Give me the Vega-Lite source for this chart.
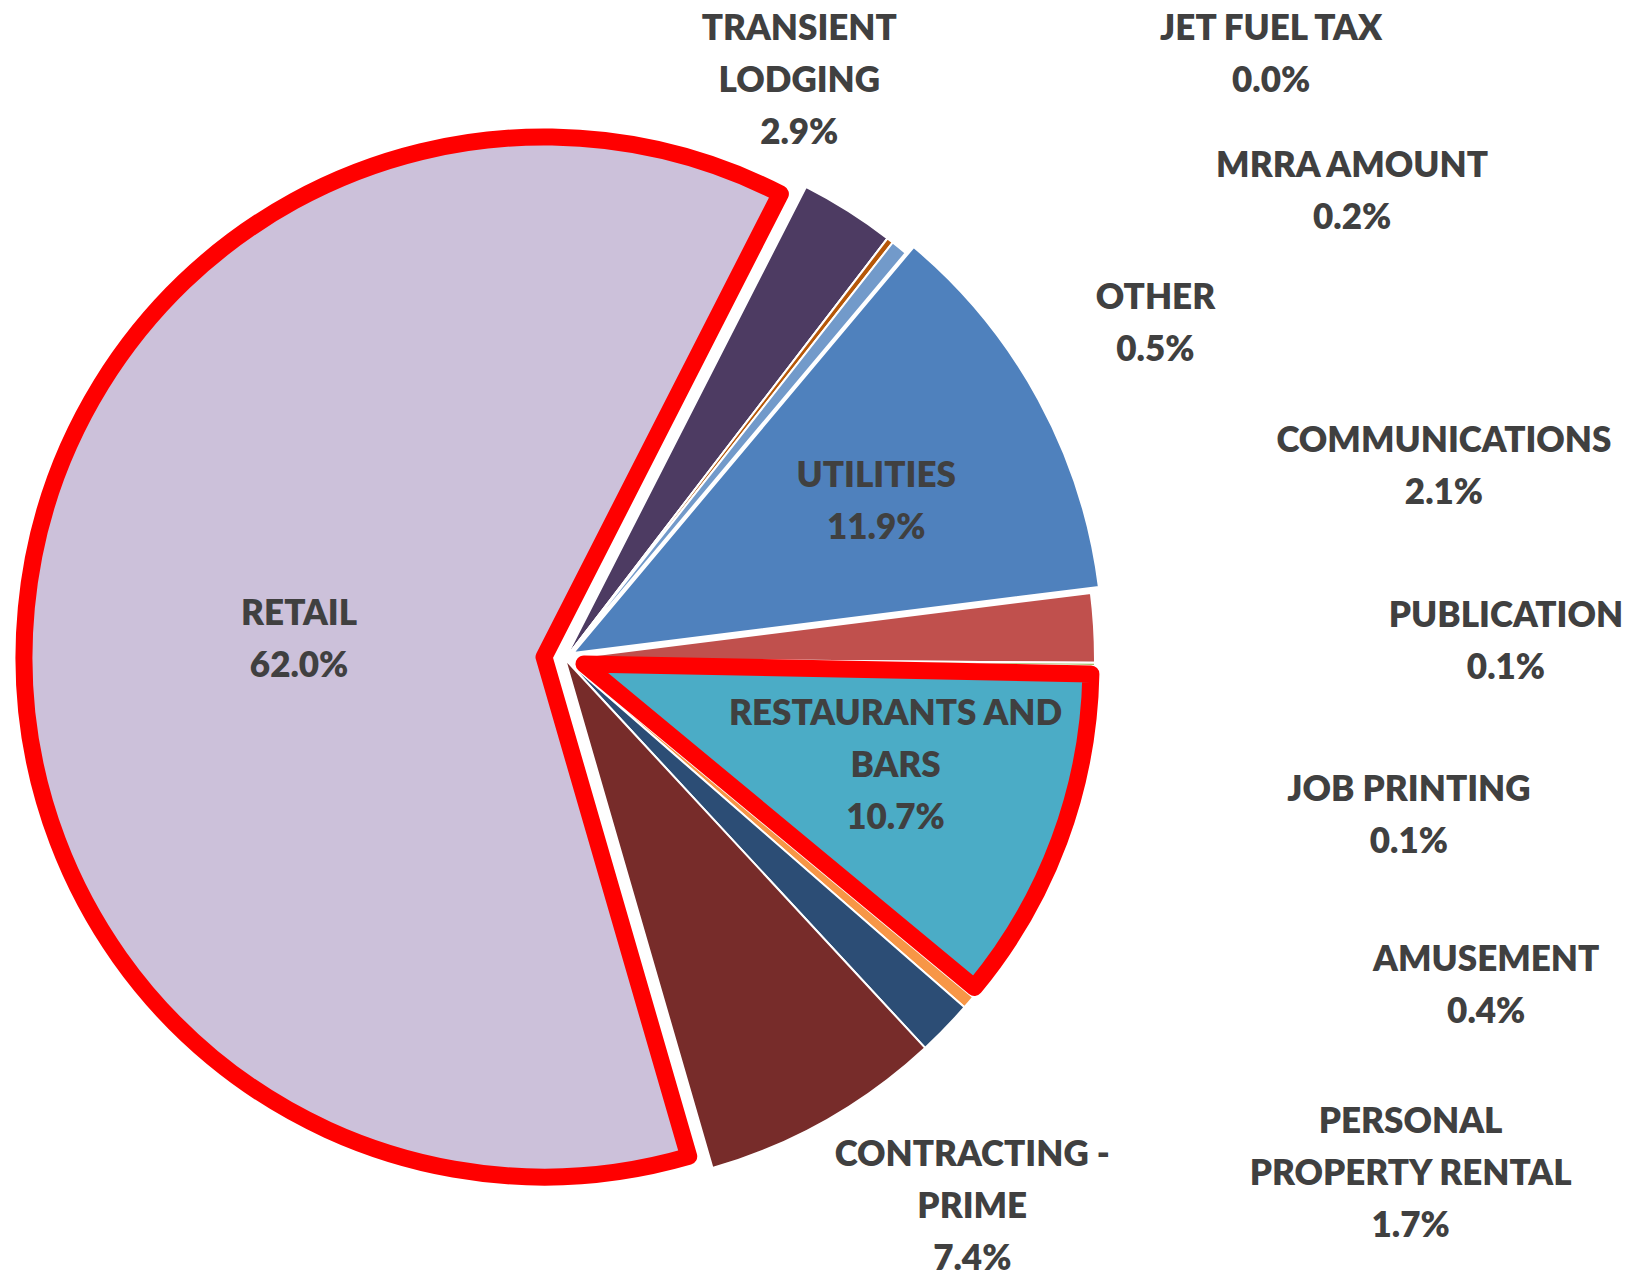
{
  "$schema": "https://vega.github.io/schema/vega-lite/v6.json",
  "width": 1130,
  "height": 1230,
  "autosize": {"type": "none"},
  "padding": {"left": 0, "top": 44, "right": 513, "bottom": 1},
  "background": "white",
  "config": {
    "view": {"stroke": null},
    "text": {"font": "Lato", "fontWeight": 800, "fontSize": 35, "color": "#404040", "lineHeight": 52, "align": "center", "baseline": "middle"}
  },
  "data": {
    "values": [
      {"category": "UTILITIES", "value": 11.9},
      {"category": "COMMUNICATIONS", "value": 2.1},
      {"category": "PUBLICATION", "value": 0.1},
      {"category": "JOB PRINTING", "value": 0.1},
      {"category": "RESTAURANTS AND BARS", "value": 10.7},
      {"category": "AMUSEMENT", "value": 0.4},
      {"category": "PERSONAL PROPERTY RENTAL", "value": 1.7},
      {"category": "CONTRACTING - PRIME", "value": 7.4},
      {"category": "RETAIL", "value": 62.0},
      {"category": "TRANSIENT LODGING", "value": 2.9},
      {"category": "JET FUEL TAX", "value": 0.0},
      {"category": "MRRA AMOUNT", "value": 0.2},
      {"category": "OTHER", "value": 0.5}
    ]
  },
  "transform": [
    {"stack": "value", "groupby": [], "as": ["v0", "v1"]},
    {"calculate": "(datum.v0 + datum.v1) / 2", "as": "mid"},
    {"calculate": "format(datum.value / 100, '.1%')", "as": "pct"}
  ],
  "layer": [
    {
      "transform": [{"filter": "datum.category !== 'RETAIL' && datum.category !== 'RESTAURANTS AND BARS' && datum.category !== 'UTILITIES'"}],
      "mark": {"type": "arc", "outerRadius": 530, "stroke": "white", "strokeWidth": 2},
      "encoding": {
        "theta": {"field": "v0", "type": "quantitative", "scale": {"domain": [0, 100], "range": [0.6981317, 6.9813170]}},
        "theta2": {"field": "v1"},
        "color": {"field": "category", "type": "nominal", "legend": null,
          "scale": {
            "domain": ["UTILITIES", "COMMUNICATIONS", "PUBLICATION", "JOB PRINTING", "RESTAURANTS AND BARS", "AMUSEMENT", "PERSONAL PROPERTY RENTAL", "CONTRACTING - PRIME", "RETAIL", "TRANSIENT LODGING", "JET FUEL TAX", "MRRA AMOUNT", "OTHER"],
            "range": ["#4F81BD", "#C0504D", "#9BBB59", "#8064A2", "#4BACC6", "#F79646", "#2C4D75", "#772C2A", "#CCC1DA", "#4D3B62", "#276A7C", "#B65708", "#729ACA"]
          }}
      }
    },
    {
      "transform": [{"filter": "datum.category === 'UTILITIES'"}],
      "mark": {"type": "arc", "outerRadius": 530, "stroke": "white", "strokeWidth": 2, "xOffset": 8, "yOffset": -6},
      "encoding": {
        "theta": {"field": "v0", "type": "quantitative", "scale": {"domain": [0, 100], "range": [0.6981317, 6.9813170]}},
        "theta2": {"field": "v1"},
        "color": {"field": "category", "type": "nominal", "legend": null}
      }
    },
    {
      "transform": [{"filter": "datum.category === 'RESTAURANTS AND BARS'"}],
      "mark": {"type": "arc", "outerRadius": 507, "stroke": "#FF0000", "strokeWidth": 17, "strokeJoin": "round", "xOffset": 19, "yOffset": 5},
      "encoding": {
        "theta": {"field": "v0", "type": "quantitative", "scale": {"domain": [0, 100], "range": [0.6981317, 6.9813170]}},
        "theta2": {"field": "v1"},
        "color": {"field": "category", "type": "nominal", "legend": null}
      }
    },
    {
      "transform": [{"filter": "datum.category === 'RETAIL'"}],
      "mark": {"type": "arc", "outerRadius": 520, "stroke": "#FF0000", "strokeWidth": 17, "strokeJoin": "round", "xOffset": -21, "yOffset": -2},
      "encoding": {
        "theta": {"field": "v0", "type": "quantitative", "scale": {"domain": [0, 100], "range": [0.6981317, 6.9813170]}},
        "theta2": {"field": "v1"},
        "color": {"field": "category", "type": "nominal", "legend": null}
      }
    },
    {
      "transform": [{"filter": "datum.category === 'RETAIL'"}, {"calculate": "[datum.category, datum.pct]", "as": "lines"}],
      "mark": {"type": "text", "radius": 246, "xOffset": -21, "yOffset": -2, "dy": -20},
      "encoding": {
        "theta": {"field": "mid", "type": "quantitative", "scale": {"domain": [0, 100], "range": [0.6981317, 6.9813170]}},
        "text": {"field": "lines", "type": "nominal"}
      }
    },
    {
      "transform": [{"filter": "datum.category === 'UTILITIES'"}, {"calculate": "[datum.category, datum.pct]", "as": "lines"}],
      "mark": {"type": "text", "radius": 343, "xOffset": 8, "yOffset": -6, "dx": 2, "dy": -13},
      "encoding": {
        "theta": {"field": "mid", "type": "quantitative", "scale": {"domain": [0, 100], "range": [0.6981317, 6.9813170]}},
        "text": {"field": "lines", "type": "nominal"}
      }
    },
    {
      "transform": [{"filter": "datum.category === 'RESTAURANTS AND BARS'"}, {"calculate": "[substring(datum.category, 0, lastindexof(datum.category, ' ')), substring(datum.category, lastindexof(datum.category, ' ') + 1), datum.pct]", "as": "lines"}],
      "mark": {"type": "text", "radius": 343, "dx": 9, "dy": -64},
      "encoding": {
        "theta": {"field": "mid", "type": "quantitative", "scale": {"domain": [0, 100], "range": [0.6981317, 6.9813170]}},
        "text": {"field": "lines", "type": "nominal"}
      }
    },
    {
      "transform": [{"filter": "datum.category === 'TRANSIENT LODGING'"}, {"calculate": "[substring(datum.category, 0, indexof(datum.category, ' ')), substring(datum.category, indexof(datum.category, ' ') + 1), datum.pct]", "as": "lines"}],
      "mark": {"type": "text", "radius": 600, "dx": -86, "dy": -123},
      "encoding": {
        "theta": {"field": "mid", "type": "quantitative", "scale": {"domain": [0, 100], "range": [0.6981317, 6.9813170]}},
        "text": {"field": "lines", "type": "nominal"}
      }
    },
    {
      "transform": [{"filter": "datum.category === 'JET FUEL TAX'"}, {"calculate": "[datum.category, datum.pct]", "as": "lines"}],
      "mark": {"type": "text", "radius": 600, "dx": 341, "dy": -154},
      "encoding": {
        "theta": {"field": "mid", "type": "quantitative", "scale": {"domain": [0, 100], "range": [0.6981317, 6.9813170]}},
        "text": {"field": "lines", "type": "nominal"}
      }
    },
    {
      "transform": [{"filter": "datum.category === 'MRRA AMOUNT'"}, {"calculate": "[datum.category, datum.pct]", "as": "lines"}],
      "mark": {"type": "text", "radius": 600, "dx": 419, "dy": -19},
      "encoding": {
        "theta": {"field": "mid", "type": "quantitative", "scale": {"domain": [0, 100], "range": [0.6981317, 6.9813170]}},
        "text": {"field": "lines", "type": "nominal"}
      }
    },
    {
      "transform": [{"filter": "datum.category === 'OTHER'"}, {"calculate": "[datum.category, datum.pct]", "as": "lines"}],
      "mark": {"type": "text", "radius": 600, "dx": 212, "dy": 105},
      "encoding": {
        "theta": {"field": "mid", "type": "quantitative", "scale": {"domain": [0, 100], "range": [0.6981317, 6.9813170]}},
        "text": {"field": "lines", "type": "nominal"}
      }
    },
    {
      "transform": [{"filter": "datum.category === 'COMMUNICATIONS'"}, {"calculate": "[datum.category, datum.pct]", "as": "lines"}],
      "mark": {"type": "text", "radius": 600, "dx": 280, "dy": -183},
      "encoding": {
        "theta": {"field": "mid", "type": "quantitative", "scale": {"domain": [0, 100], "range": [0.6981317, 6.9813170]}},
        "text": {"field": "lines", "type": "nominal"}
      }
    },
    {
      "transform": [{"filter": "datum.category === 'PUBLICATION'"}, {"calculate": "[datum.category, datum.pct]", "as": "lines"}],
      "mark": {"type": "text", "radius": 600, "dx": 341, "dy": -49},
      "encoding": {
        "theta": {"field": "mid", "type": "quantitative", "scale": {"domain": [0, 100], "range": [0.6981317, 6.9813170]}},
        "text": {"field": "lines", "type": "nominal"}
      }
    },
    {
      "transform": [{"filter": "datum.category === 'JOB PRINTING'"}, {"calculate": "[datum.category, datum.pct]", "as": "lines"}],
      "mark": {"type": "text", "radius": 600, "dx": 244, "dy": 121},
      "encoding": {
        "theta": {"field": "mid", "type": "quantitative", "scale": {"domain": [0, 100], "range": [0.6981317, 6.9813170]}},
        "text": {"field": "lines", "type": "nominal"}
      }
    },
    {
      "transform": [{"filter": "datum.category === 'AMUSEMENT'"}, {"calculate": "[datum.category, datum.pct]", "as": "lines"}],
      "mark": {"type": "text", "radius": 600, "dx": 464, "dy": -88},
      "encoding": {
        "theta": {"field": "mid", "type": "quantitative", "scale": {"domain": [0, 100], "range": [0.6981317, 6.9813170]}},
        "text": {"field": "lines", "type": "nominal"}
      }
    },
    {
      "transform": [{"filter": "datum.category === 'PERSONAL PROPERTY RENTAL'"}, {"calculate": "[substring(datum.category, 0, indexof(datum.category, ' ')), substring(datum.category, indexof(datum.category, ' ') + 1), datum.pct]", "as": "lines"}],
      "mark": {"type": "text", "radius": 600, "dx": 415, "dy": 45},
      "encoding": {
        "theta": {"field": "mid", "type": "quantitative", "scale": {"domain": [0, 100], "range": [0.6981317, 6.9813170]}},
        "text": {"field": "lines", "type": "nominal"}
      }
    },
    {
      "transform": [{"filter": "datum.category === 'CONTRACTING - PRIME'"}, {"calculate": "[substring(datum.category, 0, lastindexof(datum.category, ' ')), substring(datum.category, lastindexof(datum.category, ' ') + 1), datum.pct]", "as": "lines"}],
      "mark": {"type": "text", "radius": 600, "dx": 112, "dy": -26},
      "encoding": {
        "theta": {"field": "mid", "type": "quantitative", "scale": {"domain": [0, 100], "range": [0.6981317, 6.9813170]}},
        "text": {"field": "lines", "type": "nominal"}
      }
    }
  ]
}
